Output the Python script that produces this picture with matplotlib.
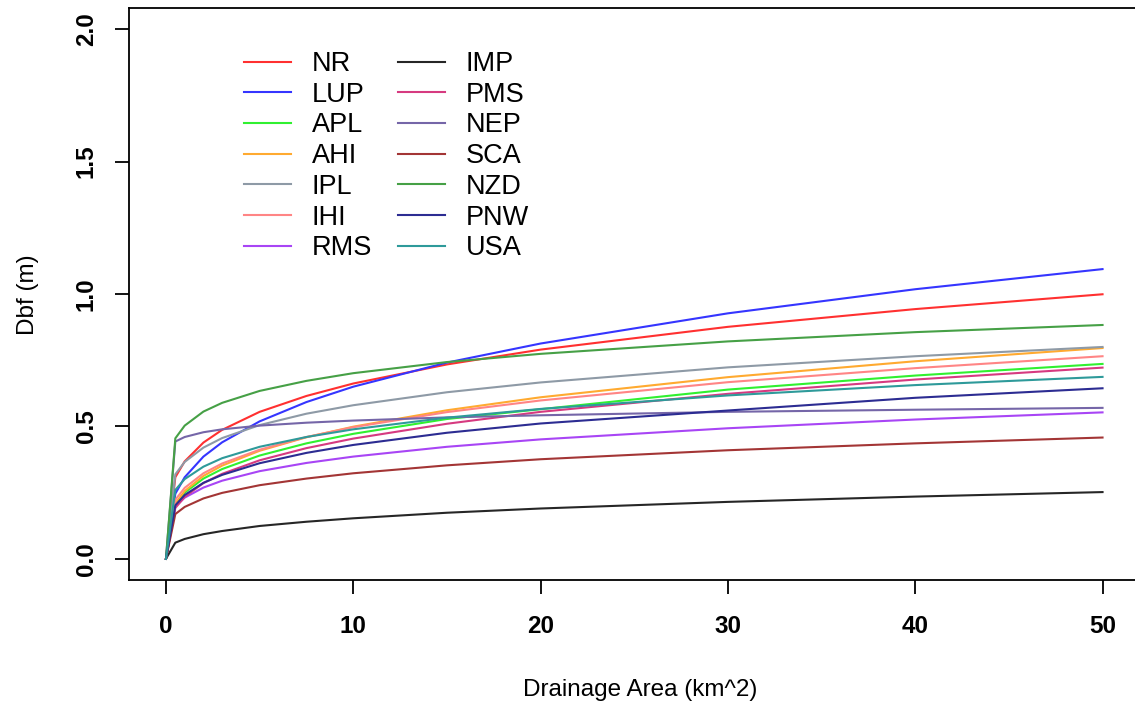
import matplotlib
matplotlib.use("Agg")
import matplotlib.pyplot as plt

plt.rcParams['font.family'] = ['Liberation Sans', 'DejaVu Sans']

# drainage area (km^2) where the curves were read
area = [0, 0.5, 1, 2, 3, 5, 7.5, 10, 15, 20, 30, 40, 50]

# bankfull depth (m)
nr = [0, 0.308, 0.368, 0.439, 0.487, 0.555, 0.615, 0.662, 0.734, 0.790, 0.876, 0.943, 0.999]
lup = [0, 0.246, 0.308, 0.386, 0.440, 0.519, 0.592, 0.650, 0.741, 0.813, 0.927, 1.018, 1.094]
apl = [0, 0.206, 0.250, 0.303, 0.339, 0.390, 0.436, 0.472, 0.528, 0.565, 0.639, 0.692, 0.736]
ahi = [0, 0.209, 0.256, 0.313, 0.352, 0.408, 0.459, 0.499, 0.561, 0.610, 0.686, 0.746, 0.796]
ipl = [0, 0.319, 0.366, 0.420, 0.456, 0.505, 0.548, 0.580, 0.629, 0.666, 0.723, 0.765, 0.800]
ihi = [0, 0.223, 0.268, 0.323, 0.360, 0.412, 0.460, 0.497, 0.554, 0.598, 0.667, 0.720, 0.765]
rms = [0, 0.197, 0.231, 0.269, 0.295, 0.331, 0.362, 0.386, 0.423, 0.451, 0.493, 0.526, 0.553]
imp = [0, 0.061, 0.075, 0.093, 0.105, 0.124, 0.140, 0.153, 0.174, 0.190, 0.215, 0.235, 0.252]
pms = [0, 0.192, 0.234, 0.286, 0.321, 0.372, 0.418, 0.454, 0.510, 0.555, 0.623, 0.677, 0.722]
nep = [0, 0.443, 0.460, 0.478, 0.489, 0.503, 0.514, 0.522, 0.534, 0.542, 0.555, 0.563, 0.570]
sca = [0, 0.169, 0.196, 0.228, 0.249, 0.278, 0.303, 0.323, 0.353, 0.376, 0.410, 0.436, 0.458]
nzd = [0, 0.455, 0.503, 0.556, 0.589, 0.634, 0.672, 0.701, 0.743, 0.774, 0.821, 0.856, 0.883]
pnw = [0, 0.202, 0.241, 0.287, 0.317, 0.361, 0.400, 0.430, 0.476, 0.511, 0.560, 0.608, 0.644]
usa = [0, 0.260, 0.301, 0.348, 0.380, 0.423, 0.460, 0.489, 0.533, 0.566, 0.617, 0.656, 0.687]

labels = ['NR', 'LUP', 'APL', 'AHI', 'IPL', 'IHI', 'RMS',
          'IMP', 'PMS', 'NEP', 'SCA', 'NZD', 'PNW', 'USA']
series = [nr, lup, apl, ahi, ipl, ihi, rms, imp, pms, nep, sca, nzd, pnw, usa]
colors = ['#ff3030', '#3535ff', '#30f030', '#ffaa30', '#8e9aa6', '#ff8585', '#a845f5',
          '#262626', '#d63a80', '#7566a8', '#a33535', '#46a046', '#2c2c92', '#2e9a9a']

fig = plt.figure(figsize=(11.35, 7.07), dpi=100)
ax = fig.add_axes([128.5 / 1135, 127 / 707, 1011.5 / 1135, 572 / 707])

for y, lab, c in zip(series, labels, colors):
    ax.plot(area, y, color=c, lw=1.5, label=lab)

ax.set_xlim(-2, 52)
ax.set_ylim(-0.08, 2.08)
ax.set_xticks([0, 10, 20, 30, 40, 50])
ax.set_yticks([0, 0.5, 1.0, 1.5, 2.0])
ax.set_yticklabels(['0.0', '0.5', '1.0', '1.5', '2.0'], rotation=90, va='center')

for s in ax.spines.values():
    s.set_linewidth(1.3)
ax.tick_params(axis='both', length=10, width=1.3, labelsize=17.5)
ax.tick_params(axis='x', pad=15)
ax.tick_params(axis='y', pad=12)
for t in ax.get_xticklabels() + ax.get_yticklabels():
    t.set_fontweight('bold')

ax.set_xlabel('Drainage Area (km^2)', fontsize=17.5)
ax.set_ylabel('Dbf (m)', fontsize=17.5)
ax.xaxis.set_label_coords((640 - 128.5) / 1011.5, (580 - 690) / 572)
ax.xaxis.label.set_va('center')
ax.yaxis.set_label_coords((28 - 128.5) / 1011.5, (580 - 295) / 572)
ax.yaxis.label.set_va('center')

ax.legend(ncol=2, frameon=False, fontsize=19.5, loc='upper left',
          bbox_to_anchor=(244 / 1135, 1 - 51 / 707), bbox_transform=fig.transFigure,
          borderpad=0, borderaxespad=0, handlelength=1.75, handletextpad=0.75,
          labelspacing=0.175, columnspacing=0.95)

fig.savefig('out.png', dpi=100)
